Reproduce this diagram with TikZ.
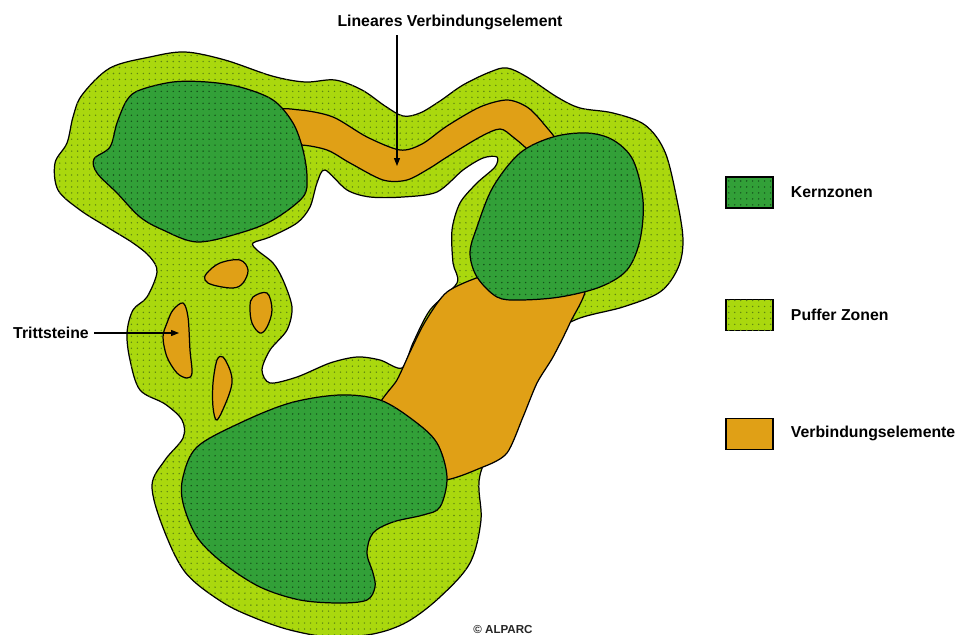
\documentclass[tikz,border=0pt]{standalone}
\usepackage{fontspec}
\setmainfont{Liberation Sans}
\usepackage{xcolor}
\usepackage{tikz}
\usetikzlibrary{arrows.meta, positioning, patterns.meta}
\definecolor{kerngreen}{RGB}{50,160,56}
\definecolor{puffergreen}{RGB}{170,216,14}
\definecolor{linkorange}{RGB}{224,160,22}
\definecolor{kerndot}{RGB}{20,78,26}
\definecolor{pufferdot}{RGB}{92,132,18}
\tikzset{
  kernzone/.style={draw=black, line width=0.7pt, fill=kerngreen, postaction={pattern={Dots[distance=3.4pt, radius=0.45pt]}, pattern color=kerndot}},
  pufferzone/.style={draw=black, line width=0.7pt, fill=puffergreen, postaction={pattern={Dots[distance=3.4pt, radius=0.45pt]}, pattern color=pufferdot}},
  linkzone/.style={draw=black, line width=0.7pt, fill=linkorange},
  hole/.style={draw=black, line width=0.7pt, fill=white},
  legbox/.style={rectangle, draw=black!80, line width=0.9pt, minimum width=0.94cm, minimum height=0.62cm, inner sep=0pt},
  legtext/.style={inner sep=0pt, anchor=west, font=\fontsize{9}{11}\selectfont\bfseries},
  label/.style={inner sep=3pt, font=\fontsize{9}{11}\selectfont\bfseries},
  arrow/.style={-{Triangle[length=4.5pt, width=3.4pt]}, line width=0.6pt, draw=black}
}
\begin{document}
\begin{tikzpicture}[x=0.02cm, y=-0.02cm]
  \useasboundingbox (0,0) rectangle (967,635);

  \draw[pufferzone] plot[smooth cycle, tension=0.55] coordinates {
    (82,95) (110,68) (150,57) (185,52) (225,60) (272,76) (305,82) (335,80) (362,90)
    (385,106) (403,116) (420,113) (440,101) (463,85) (490,72) (507,68) (527,77) (557,97)
    (580,108) (613,113) (645,125)
    (665,152) (677,200) (683,240) (678,268) (660,292) (623,307) (575,320) (540,345)
    (505,420) (480,475) (481,520) (470,563) (440,597) (407,622) (373,634) (330,637)
    (290,630) (255,618) (222,602) (185,572) (162,525) (152,485) (165,460) (183,438)
    (182,420) (165,404) (140,390) (130,360) (127,333) (133,310) (147,297) (157,272)
    (150,257) (133,243) (107,227) (80,210) (58,190) (55,163) (67,143) (73,117)};

  \draw[hole] plot[smooth cycle, tension=0.5] coordinates {
    (325,170) (347,190) (370,197) (403,197) (437,192) (463,170) (483,158) (497,157)
    (495,167) (477,183) (460,203) (452,230) (453,263) (457,283) (430,310) (413,343)
    (402,368) (380,360) (357,357) (330,363) (297,377) (270,383) (262,370) (270,350)
    (287,330) (292,307) (283,280) (273,263) (257,250) (253,243) (270,237) (297,223)
    (310,207) (317,183)};

  \draw[linkzone] plot[smooth cycle, tension=0.5] coordinates {
    (275,112) (300,110) (333,117) (367,137) (400,150) (422,144) (447,126) (480,107)
    (507,100) (527,107) (543,123) (560,148) (540,165) (528,150) (513,137) (500,129)
    (480,137) (447,157) (430,168) (407,180) (383,180) (350,163) (327,150) (300,145) (280,150)};

  \draw[linkzone] plot[smooth cycle, tension=0.45] coordinates {
    (485,275) (447,292) (425,322) (410,352) (397,380) (378,410) (405,445) (438,480)
    (483,467) (507,453) (523,417) (537,383) (553,357) (570,323) (585,285) (540,262)};

  \draw[linkzone] plot[smooth cycle, tension=0.6] coordinates {
    (207,273) (220,263) (240,260) (248,270) (243,283) (233,288) (213,285) (205,280)};
  \draw[linkzone] plot[smooth cycle, tension=0.6] coordinates {
    (253,297) (267,293) (272,310) (267,327) (260,333) (252,323) (250,307)};
  \draw[linkzone] plot[smooth cycle, tension=0.55] coordinates {
    (173,310) (183,303) (188,317) (190,350) (192,373) (187,378) (177,373) (167,357)
    (163,337) (167,323)};
  \draw[linkzone] plot[smooth cycle, tension=0.55] coordinates {
    (217,360) (223,357) (230,370) (232,383) (227,400) (217,420) (213,407) (213,383)};

  \draw[kernzone] plot[smooth cycle, tension=0.55] coordinates {
    (140,90) (173,82) (207,82) (240,87) (273,100) (293,123) (303,150) (307,177)
    (303,197) (273,220) (240,233) (197,242) (163,230) (140,217) (117,193) (97,173)
    (94,159) (110,147) (117,123) (127,100)};
  \draw[kernzone] plot[smooth cycle, tension=0.55] coordinates {
    (520,153) (553,137) (587,133) (613,140) (633,160) (643,200) (640,240) (627,270)
    (600,287) (560,297) (520,300) (497,297) (477,277) (470,253) (477,227) (493,187)};
  \draw[kernzone] plot[smooth cycle, tension=0.55] coordinates {
    (240,423) (290,403) (340,395) (380,400) (413,420) (437,443) (447,477) (440,507)
    (423,515) (393,522) (373,533) (367,553) (373,573) (375,587) (367,600) (340,603)
    (300,600) (260,587) (223,563) (197,537) (183,503) (183,477) (197,447)};

  \node[label] (linlabel) at (450,22) {Lineares Verbindungselement};
  \coordinate (linend) at (397,166);
  \draw[arrow] (linlabel.south -| linend) -- (linend);

  \node[label] (trittlabel) at (51,333) {Trittsteine};
  \coordinate (trittend) at (179,333);
  \draw[arrow] (trittlabel.east) -- (trittend |- trittlabel.east);

  \node[legbox, kernzone] (kernbox) at (749.5,192.5) {};
  \node[legtext, right=0.34cm of kernbox] (kerntext) {Kernzonen};
  \node[legbox, pufferzone, below=1.8cm of kernbox] (pufferbox) {};
  \node[legtext, right=0.34cm of pufferbox] (puffertext) {Puffer Zonen};
  \node[legbox, linkzone, below=1.74cm of pufferbox] (linkbox) {};
  \node[legtext, right=0.34cm of linkbox] (linktext) {Verbindungselemente};

  \node[inner sep=0pt, text=black!85, font=\fontsize{6.6}{8}\selectfont\bfseries] (copyright) at (503,630) {© ALPARC};
\end{tikzpicture}
\end{document}
